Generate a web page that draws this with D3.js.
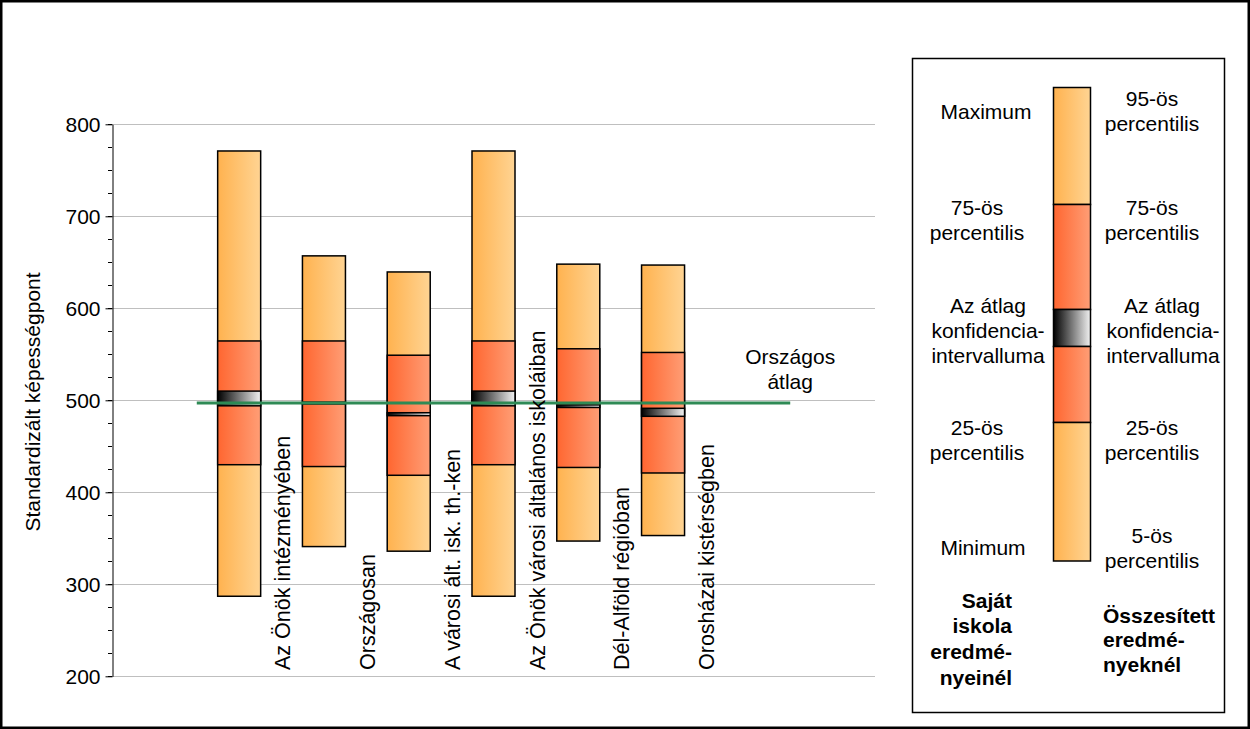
<!DOCTYPE html>
<html><head><meta charset="utf-8">
<script src="https://cdn.jsdelivr.net/npm/d3@7/dist/d3.min.js"></script>
<style>body{margin:0;background:#fff}svg{display:block;font-family:"Liberation Sans",Arial,sans-serif}</style>
</head><body><svg id="c" width="1250" height="729"></svg>
<script>
// ---- data ----
const categories = ["Az Önök intézményében","Országosan","A városi ált. isk. th.-ken","Az Önök városi általános iskoláiban","Dél-Alföld régióban","Orosházai kistérségben"];
const lowValues   = [287, 341, 336, 287, 347, 353];
const p25Values   = [430, 428, 418.5, 430, 427, 421];
const confLow     = [494, 496, 483.3, 494, 492.2, 482.6];
const confHigh    = [510, 498, 486.5, 510, 495, 491.3];
const p75Values   = [564.5, 564.5, 549, 564.5, 556, 552];
const highValues  = [771, 657, 639.5, 771, 648, 647];
const nationalMean = 497;
const yTicks = [200, 300, 400, 500, 600, 700, 800];
const yMinorTicks = d3.range(200, 801, 25);
const slotCount = 9; // chart category slots (bars occupy slots 1..6)

const legendLeft = [
  {t:"Maximum", x:986, y:111},
  {t:"75-ös", x:977, y:207},{t:"percentilis", x:977, y:232},
  {t:"Az átlag", x:988, y:305},{t:"konfidencia-", x:988, y:330},{t:"intervalluma", x:988, y:355},
  {t:"25-ös", x:977, y:427},{t:"percentilis", x:977, y:452},
  {t:"Minimum", x:983, y:547}
];
const legendRight = [
  {t:"95-ös", x:1152, y:98},{t:"percentilis", x:1152, y:123},
  {t:"75-ös", x:1152, y:207},{t:"percentilis", x:1152, y:232},
  {t:"Az átlag", x:1162, y:305},{t:"konfidencia-", x:1163, y:330},{t:"intervalluma", x:1163, y:355},
  {t:"25-ös", x:1152, y:427},{t:"percentilis", x:1152, y:452},
  {t:"5-ös", x:1152, y:535},{t:"percentilis", x:1152, y:560}
];
const legendBoldLeft = ["Saját","iskola","eredmé-","nyeinél"];
const legendBoldRight = ["Összesített","eredmé-","nyeknél"];

// ---- drawing ----
const svg = d3.select("#c");
const FS = 21;
const defs = svg.append("defs");
function grad(id, c1, c2){
  const g = defs.append("linearGradient").attr("id", id).attr("x1","0").attr("x2","1").attr("y1","0").attr("y2","0");
  g.append("stop").attr("offset","0").attr("stop-color", c1);
  g.append("stop").attr("offset","1").attr("stop-color", c2);
}
grad("gLight", "#FFB24F", "#FFD493");
grad("gOrange", "#FF6630", "#FF9E76");
grad("gConf", "#000000", "#F2F2F2");

svg.append("rect").attr("x",1.25).attr("y",1.25).attr("width",1247.5).attr("height",726.5)
  .attr("fill","#fff").attr("stroke","#000").attr("stroke-width",2.5);

const y = d3.scaleLinear().domain([200, 800]).range([676.3, 124.3]);
const x = d3.scaleBand().domain(d3.range(slotCount)).range([112, 875]).padding(0);
const barW = 43;
const bx = i => x(i + 1) + (x.bandwidth() - barW) / 2;

// gridlines
svg.append("g").selectAll("line").data(yTicks).join("line")
  .attr("x1", 112).attr("x2", 875)
  .attr("y1", d => Math.round(y(d)) + 0.5).attr("y2", d => Math.round(y(d)) + 0.5)
  .attr("stroke", "#BFBFBF").attr("stroke-width", 1);

// minor ticks
svg.append("g").selectAll("line").data(yMinorTicks).join("line")
  .attr("x1", 108).attr("x2", 112)
  .attr("y1", d => Math.round(y(d)) + 0.5).attr("y2", d => Math.round(y(d)) + 0.5)
  .attr("stroke", "#000");

// axis
const axis = svg.append("g").attr("transform", "translate(112.5,0)")
  .call(d3.axisLeft(y).tickValues(yTicks).tickSize(7).tickSizeOuter(0).tickPadding(5).tickFormat(d3.format("d")));
axis.selectAll("text").attr("font-size", FS).attr("font-family", "Liberation Sans, Arial, sans-serif").attr("fill", "#000");
axis.selectAll("line,path").attr("stroke", "#000");

// y title
svg.append("text").attr("transform", "translate(40,402) rotate(-90)")
  .attr("text-anchor", "middle").attr("font-size", FS).text("Standardizált képességpont");

// bars
const bars = svg.append("g").selectAll("g").data(categories).join("g");
bars.append("rect").attr("x", (d,i) => bx(i)).attr("width", barW)
  .attr("y", (d,i) => y(highValues[i])).attr("height", (d,i) => y(lowValues[i]) - y(highValues[i]))
  .attr("fill", "url(#gLight)").attr("stroke", "#000").attr("stroke-width", 1.5);
bars.append("rect").attr("x", (d,i) => bx(i)).attr("width", barW)
  .attr("y", (d,i) => y(p75Values[i])).attr("height", (d,i) => y(p25Values[i]) - y(p75Values[i]))
  .attr("fill", "url(#gOrange)").attr("stroke", "#000").attr("stroke-width", 1.5);
bars.append("rect").attr("x", (d,i) => bx(i)).attr("width", barW)
  .attr("y", (d,i) => y(confHigh[i])).attr("height", (d,i) => y(confLow[i]) - y(confHigh[i]))
  .attr("fill", "url(#gConf)").attr("stroke", "#000").attr("stroke-width", 1.5);

// national mean line
svg.append("line").attr("x1", x(1)).attr("x2", x(8))
  .attr("y1", y(nationalMean)).attr("y2", y(nationalMean))
  .attr("stroke", "#2E8A55").attr("stroke-width", 3);
const nl = svg.append("text").attr("text-anchor", "middle").attr("font-size", FS);
nl.append("tspan").attr("x", x(8)).attr("y", y(nationalMean) - 39).text("Országos");
nl.append("tspan").attr("x", x(8)).attr("y", y(nationalMean) - 14).text("átlag");

// category labels
svg.append("g").selectAll("text").data(categories).join("text")
  .attr("transform", (d,i) => `translate(${x(i+1) + x.bandwidth()/2 + 44 + 7},670) rotate(-90)`)
  .attr("text-anchor", "start").attr("font-size", 21.5).text(d => d);

// legend
svg.append("rect").attr("x", 912.5).attr("y", 58.5).attr("width", 312).attr("height", 654)
  .attr("fill", "#fff").attr("stroke", "#000").attr("stroke-width", 1.5);
const legBar = [
  {y0:87.5, y1:204.5, f:"url(#gLight)"},
  {y0:204.5, y1:309.5, f:"url(#gOrange)"},
  {y0:309.5, y1:346.5, f:"url(#gConf)"},
  {y0:346.5, y1:422.5, f:"url(#gOrange)"},
  {y0:422.5, y1:561, f:"url(#gLight)"}
];
svg.append("g").selectAll("rect").data(legBar).join("rect")
  .attr("x", 1053.5).attr("width", 37).attr("y", d => d.y0).attr("height", d => d.y1 - d.y0)
  .attr("fill", d => d.f).attr("stroke", "#000").attr("stroke-width", 1.5);
svg.append("g").selectAll("text").data(legendLeft.concat(legendRight)).join("text")
  .attr("x", d => d.x).attr("y", d => d.y).attr("dy", "0.36em").attr("text-anchor", "middle")
  .attr("font-size", FS).text(d => d.t);
svg.append("g").selectAll("text").data(legendBoldLeft).join("text")
  .attr("x", 1012).attr("y", (d,i) => 600 + i * 25.7).attr("dy", "0.36em").attr("text-anchor", "end")
  .attr("font-size", FS).attr("font-weight", "bold").text(d => d);
svg.append("g").selectAll("text").data(legendBoldRight).join("text")
  .attr("x", 1103).attr("y", (d,i) => 615 + i * 24.5).attr("dy", "0.36em").attr("text-anchor", "start")
  .attr("font-size", FS).attr("font-weight", "bold").text(d => d);
</script></body></html>
